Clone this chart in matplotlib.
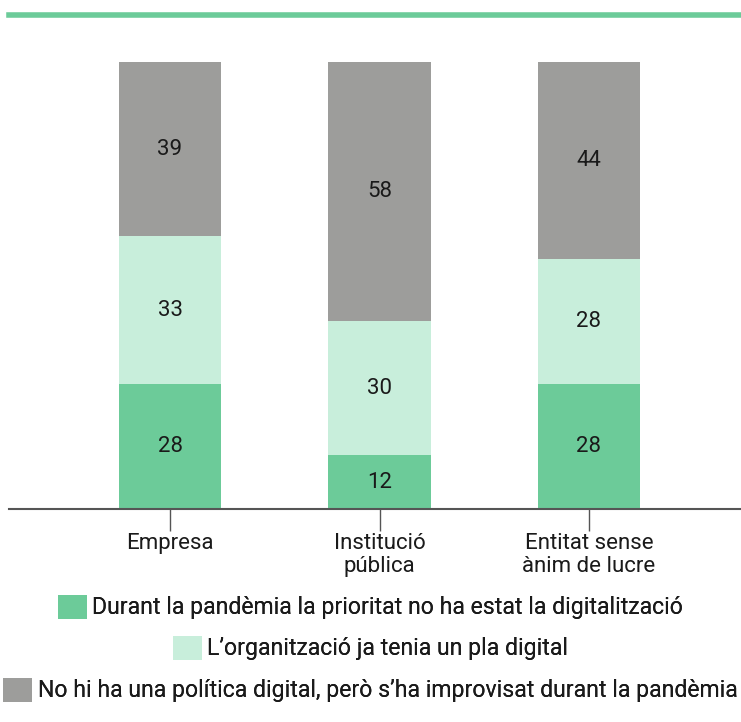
import matplotlib.pyplot as plt
import numpy as np
from matplotlib.lines import Line2D
from matplotlib.patches import Patch

plt.rcParams['font.family'] = ['Roboto', 'DejaVu Sans']

categories = ['Empresa', 'Institució\npública', 'Entitat sense\nànim de lucre']
prioritat = [28, 12, 28]
pla_digital = [33, 30, 28]
improvisat = [39, 58, 44]
series_names = ['Durant la pandèmia la prioritat no ha estat la digitalització',
                'L’organització ja tenia un pla digital',
                'No hi ha una política digital, però s’ha improvisat durant la pandèmia']
colors = ['#6ccb99', '#c8eedb', '#9d9d9b']

fig = plt.figure(figsize=(7.41, 7.22), dpi=100)
ax = fig.add_axes([9 / 741, 213 / 722, 732 / 741, 447 / 722])

x = np.arange(len(categories))
bottom = np.zeros(len(categories))
for vals, col in zip([prioritat, pla_digital, improvisat], colors):
    vals = np.array(vals)
    ax.bar(x, vals, bottom=bottom, width=0.49, color=col, linewidth=0)
    for xi, b, v in zip(x, bottom, vals):
        ax.text(xi, b + v / 2, str(v), ha='center', va='center', fontsize=16, color='#1a1a1a')
    bottom += vals

ax.set_xlim(-0.769, 2.726)
ax.set_ylim(0, 100)
for s in ['top', 'right', 'left']:
    ax.spines[s].set_visible(False)
ax.spines['bottom'].set_color('#555555')
ax.spines['bottom'].set_linewidth(1.5)
ax.set_yticks([])
ax.set_xticks(x)
ax.set_xticklabels(categories, fontsize=16, color='#1a1a1a', linespacing=1.15)
ax.tick_params(axis='x', length=16, width=1, color='#555555', pad=1)

# green rule at the top
fig.add_artist(Line2D([9 / 741, 1], [1 - 15 / 722, 1 - 15 / 722], color='#6ccb99', linewidth=4))

# legend, one entry per line, centred
legend_y = [607, 648, 690]
for name, col, yy in zip(series_names, colors, legend_y):
    leg = fig.legend(handles=[Patch(color=col, linewidth=0)], labels=[name],
                     loc='center', bbox_to_anchor=(0.5, 1 - yy / 722), frameon=False,
                     fontsize=16.6, handlelength=1.25, handleheight=1.25, handletextpad=0.25,
                     borderaxespad=0, borderpad=0)
    for t in leg.get_texts():
        t.set_color('#1a1a1a')
    fig.add_artist(leg)

fig.savefig('out.png', dpi=100)
